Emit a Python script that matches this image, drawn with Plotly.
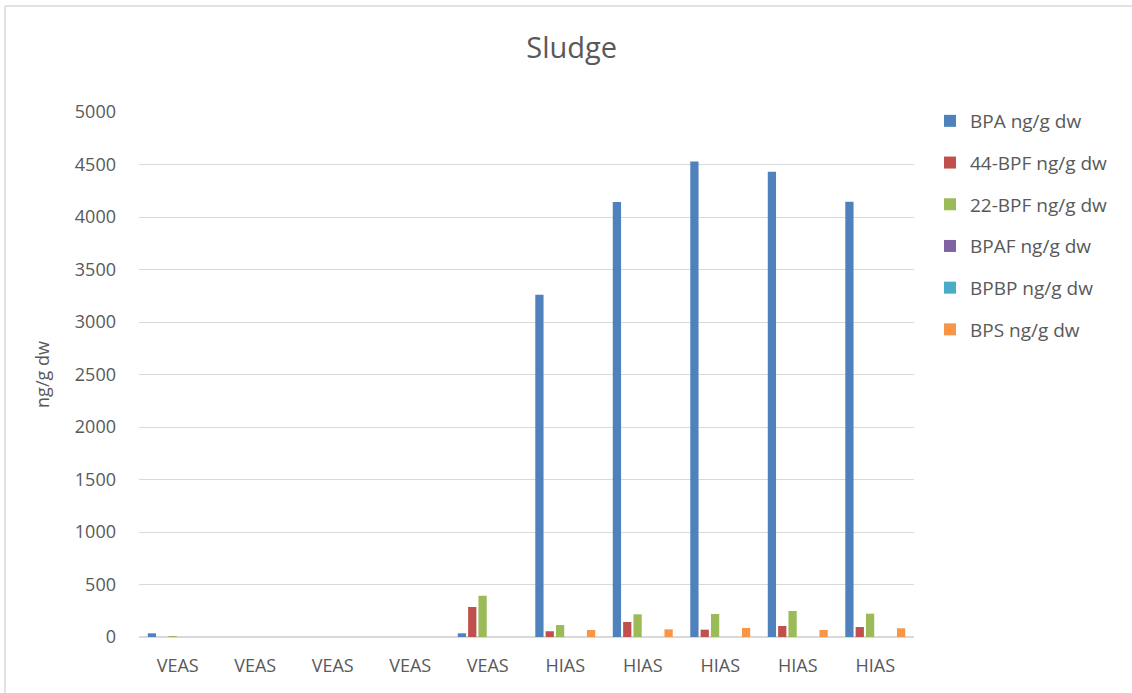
import plotly.graph_objects as go

# Sampling sites (one group of bars per sample)
sites = ["VEAS", "VEAS", "VEAS", "VEAS", "VEAS", "HIAS", "HIAS", "HIAS", "HIAS", "HIAS"]

# Concentrations in sludge, ng/g dry weight
bpa = [35, 0, 0, 0, 35, 3260, 4143, 4528, 4432, 4145]
bpf_44 = [0, 0, 0, 0, 286, 55, 143, 70, 105, 95]
bpf_22 = [8, 0, 0, 0, 393, 114, 216, 219, 248, 222]
bpaf = [0, 0, 0, 0, 0, 0, 0, 0, 0, 0]
bpbp = [0, 0, 0, 0, 0, 0, 0, 0, 0, 0]
bps = [0, 0, 0, 0, 0, 67, 73, 86, 67, 83]

series_names = ["BPA ng/g dw", "44-BPF ng/g dw", "22-BPF ng/g dw",
                "BPAF ng/g dw", "BPBP ng/g dw", "BPS ng/g dw"]
series_values = [bpa, bpf_44, bpf_22, bpaf, bpbp, bps]
series_colors = ["#4F81BD", "#C0504D", "#9BBB59", "#8064A2", "#4BACC6", "#F79646"]

y_ticks = [0, 500, 1000, 1500, 2000, 2500, 3000, 3500, 4000, 4500, 5000]

FONT = "Open Sans"
TEXT = "#595959"

# numeric x positions so repeated site names stay as separate groups
x_pos = list(range(len(sites)))

fig = go.Figure()
for name, vals, col in zip(series_names, series_values, series_colors):
    fig.add_trace(go.Bar(
        x=x_pos, y=vals, name=name, legendgroup=name,
        marker=dict(color=col, line=dict(width=0)),
    ))

# plot area geometry in pixels
W, H = 1132, 693
L, R, T, B = 139, 914, 112, 637


def px_x(p):
    return (p - L) / (R - L)


def px_y(p):
    return (B - p) / (B - T)


shapes = [
    dict(type="line", xref="paper", yref="paper",
         x0=px_x(5), x1=px_x(1140), y0=px_y(6), y1=px_y(6),
         line=dict(color="#D9D9D9", width=1.5)),
    dict(type="line", xref="paper", yref="paper",
         x0=px_x(5), x1=px_x(5), y0=px_y(6), y1=px_y(700),
         line=dict(color="#D9D9D9", width=1.5)),
]

fig.update_layout(
    width=W, height=H,
    margin=dict(l=L, r=W - R, t=T, b=H - B, pad=0),
    paper_bgcolor="white", plot_bgcolor="white",
    barmode="group", bargap=0.2, bargroupgap=0.2,
    font=dict(family=FONT, color=TEXT, size=18),
    title=dict(text="Sludge", x=0.505, xanchor="center", y=1 - 48 / H, yanchor="middle",
               font=dict(family=FONT, size=29, color=TEXT)),
    xaxis=dict(tickmode="array", tickvals=x_pos, ticktext=sites, range=[-0.5, 9.5],
               showgrid=False, showline=False, zeroline=False, ticks="",
               tickfont=dict(size=18, color=TEXT), ticklabelstandoff=16),
    yaxis=dict(range=[0, 5000], tickvals=y_ticks, showgrid=True, gridcolor="#D9D9D9",
               gridwidth=1, zeroline=True, zerolinecolor="#D9D9D9", zerolinewidth=1.5,
               showline=False, ticks="", tickfont=dict(size=18, color=TEXT),
               ticklabelstandoff=22,
               title=dict(text="ng/g dw", font=dict(size=18, color=TEXT), standoff=20)),
    legend=dict(x=px_x(930), xanchor="left", y=px_y(102), yanchor="top",
                font=dict(size=19, color=TEXT), tracegroupgap=14,
                bgcolor="rgba(0,0,0,0)"),
    shapes=shapes,
)

fig.write_html("out.html")
